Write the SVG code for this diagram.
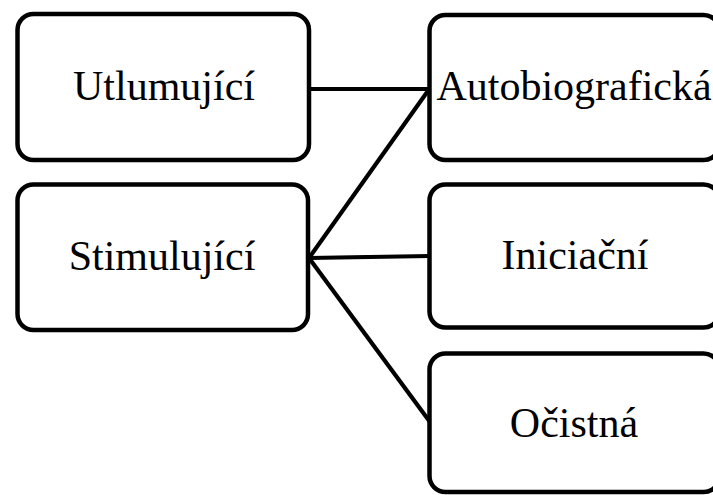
<svg xmlns="http://www.w3.org/2000/svg" width="713" height="495" viewBox="0 0 713 495">
<style>
.box{fill:#fff;stroke:#000;stroke-width:4.5}
.lbl{font-family:"Liberation Serif","Times New Roman",serif;font-size:42px;fill:#000;text-anchor:middle}
.con line{stroke:#000;stroke-width:4.2;stroke-linecap:butt}
</style>
<rect width="713" height="495" fill="#fff"/>
<g class="con" id="connectors">
<line x1="309" y1="89" x2="430" y2="89"/>
<line x1="309" y1="258" x2="430" y2="88"/>
<line x1="309" y1="258" x2="430" y2="256"/>
<line x1="309" y1="258" x2="430" y2="422"/>
</g>
<g id="utlumujici">
<rect class="box" x="17.5" y="14" width="291.5" height="146" rx="16"/>
<text class="lbl" x="164" y="100">Utlumující</text>
</g>
<g id="stimulujici">
<rect class="box" x="17.5" y="184.5" width="290.5" height="145.5" rx="16"/>
<text class="lbl" x="162" y="270">Stimulující</text>
</g>
<g id="autobiograficka">
<rect class="box" x="429.5" y="15" width="290" height="145" rx="16"/>
<text class="lbl" x="574" y="100">Autobiografická</text>
</g>
<g id="iniciacni">
<rect class="box" x="429.5" y="184.5" width="290" height="143" rx="16"/>
<text class="lbl" x="575" y="269">Iniciační</text>
</g>
<g id="ocistna">
<rect class="box" x="429.5" y="353.5" width="290" height="138.5" rx="16"/>
<text class="lbl" x="574" y="437">Očistná</text>
</g>
</svg>
